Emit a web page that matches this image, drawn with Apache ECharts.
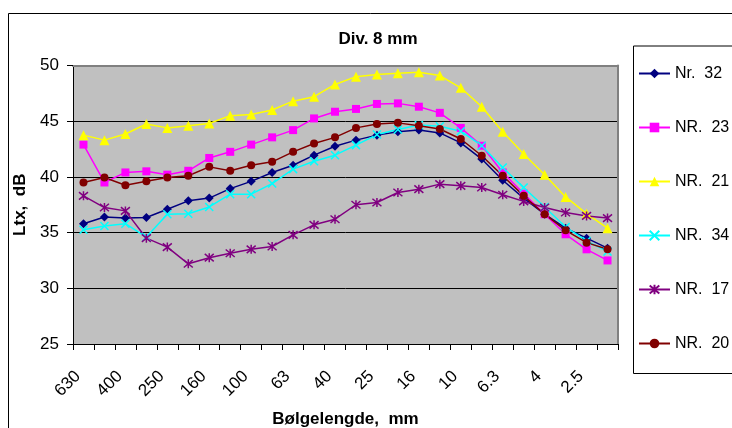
<!DOCTYPE html>
<html>
<head>
<meta charset="utf-8">
<script src="https://cdn.jsdelivr.net/npm/echarts@6/dist/echarts.min.js"></script>
<style>
html,body{margin:0;padding:0;background:#fff;}
#chart{width:732px;height:428px;}
</style>
</head>
<body>
<div id="chart"></div>
<script>
var categories = ['630','500','400','315','250','200','160','125','100','80','63','50','40','31.5','25','20','16','12.5','10','8','6.3','5','4','3.15','2.5','2'];
var seriesNames = ['Nr.  32','NR.  23','NR.  21','NR.  34','NR.  17','NR.  20'];
var nr32 = [35.8,36.4,36.3,36.35,37.1,37.85,38.1,38.95,39.6,40.4,41.05,41.95,42.75,43.3,43.75,44.05,44.2,43.95,43.05,41.6,39.7,38.1,36.65,35.4,34.5,33.6];
var nr23 = [42.9,39.5,40.4,40.5,40.2,40.55,41.7,42.25,42.9,43.55,44.2,45.25,45.85,46.1,46.55,46.6,46.3,45.75,44.4,42.8,40.4,38.5,36.65,34.85,33.5,32.5];
var nr21 = [43.75,43.3,43.85,44.75,44.4,44.6,44.8,45.5,45.6,46.0,46.8,47.2,48.3,49.0,49.2,49.3,49.4,49.1,48.0,46.3,44.05,42.05,40.2,38.2,36.7,35.4];
var nr34 = [35.25,35.6,35.8,34.6,36.65,36.7,37.3,38.45,38.45,39.4,40.7,41.4,41.95,42.85,43.8,44.25,44.65,44.55,44.1,42.8,40.85,39.05,37.3,35.5,34.25,33.3];
var nr17 = [38.3,37.25,36.95,34.5,33.7,32.2,32.75,33.15,33.5,33.75,34.8,35.7,36.2,37.5,37.7,38.6,38.9,39.35,39.2,39.05,38.4,37.8,37.25,36.8,36.5,36.3];
var nr20 = [39.5,39.95,39.25,39.6,39.95,40.1,40.9,40.55,41.05,41.35,42.25,43.0,43.55,44.4,44.75,44.85,44.6,44.3,43.4,41.9,40.1,38.3,36.65,35.2,34.1,33.5];
var yTicks = [25,30,35,40,45,50];

var FONT = '"Liberation Sans", Arial, sans-serif';
var colors = ['#000080','#FF00FF','#FFFF00','#00FFFF','#800080','#800000'];
var symbols = ['diamond','rect','triangle','path://M0,0L10,10M10,0L0,10','path://M0,0L10,10M10,0L0,10M5,-1L5,11','circle'];
var sizes = [9,8,10,8,9,8];
var values = [nr32,nr23,nr21,nr34,nr17,nr20];

var series = values.map(function(v,i){
  return {
    name: seriesNames[i],
    type: 'line',
    data: v,
    xAxisIndex: 0,
    yAxisIndex: 0,
    symbol: symbols[i],
    symbolSize: sizes[i],
    showSymbol: true,
    showAllSymbol: true,
    lineStyle: {color: colors[i], width: 1.5},
    itemStyle: {color: colors[i], borderColor: colors[i], borderWidth: (i===3||i===4)?1.5:0},
    emphasis: {disabled: true},
    animation: false
  };
});

var chart = echarts.init(document.getElementById('chart'), null, {renderer:'canvas'});
chart.setOption({
  backgroundColor: '#ffffff',
  animation: false,
  textStyle: {fontFamily: FONT},
  title: {
    text: 'Div. 8 mm',
    left: 373, top: 26, textAlign: 'center',
    textStyle: {fontFamily: FONT, fontSize: 17, fontWeight: 'bold', color: '#000'}
  },
  graphic: [
    {type:'rect', left: 6, top: 11, shape:{x:0,y:0,width:740,height:440}, style:{fill:'none', stroke:'#000', lineWidth:1}, silent:true, z:-1},
    {type:'rect', left: 631, top: 43.5, shape:{x:0,y:0,width:120,height:327.5}, style:{fill:'none', stroke:'#000', lineWidth:1}, silent:true, z:20}
  ],
  legend: {
    orient: 'vertical',
    left: 631, top: 43.5,
    padding: [22, 10, 20, 7],
    itemGap: 38,
    itemWidth: 31,
    itemHeight: 12,
    borderWidth: 0,
    textStyle: {fontFamily: FONT, fontSize: 16, color: '#000', lineHeight: 16},
    data: seriesNames
  },
  grid: {
    left: 73, top: 65.5, width: 545, height: 278.5,
    containLabel: false,
    outerBoundsMode: 'none',
    show: true, backgroundColor: '#c0c0c0', borderWidth: 0
  },
  xAxis: [{
    type: 'category',
    data: categories,
    boundaryGap: true,
    position: 'bottom',
    axisLine: {show: true, lineStyle: {color: '#000', width: 1}},
    axisTick: {show: true, interval: 0, length: 6, inside: false, lineStyle: {color: '#000'}},
    axisLabel: {interval: 1, rotate: 45, margin: 24, padding: [0, 8, 0, 0], fontFamily: FONT, fontSize: 17, color: '#000'},
    name: 'Bølgelengde,  mm',
    nameLocation: 'middle',
    nameGap: 67,
    nameTextStyle: {fontFamily: FONT, fontSize: 17, fontWeight: 'bold', color: '#000'},
    splitLine: {show: false}
  },{
    type: 'category',
    data: categories,
    position: 'top',
    axisLine: {show: true, lineStyle: {color: '#808080', width: 2}},
    axisTick: {show: false},
    axisLabel: {show: false},
    splitLine: {show: false}
  }],
  yAxis: [{
    type: 'value',
    min: 25, max: 50, interval: 5,
    axisLine: {show: true, lineStyle: {color: '#000', width: 1}},
    axisTick: {show: true, length: 6, lineStyle: {color: '#000'}},
    axisLabel: {margin: 14, fontFamily: FONT, fontSize: 17, color: '#000',
      formatter: function(v){ return yTicks.indexOf(v) >= 0 ? String(v) : ''; }},
    splitLine: {show: true, lineStyle: {color: '#000', width: 1}},
    name: 'Ltx,  dB',
    nameLocation: 'middle',
    nameRotate: 90,
    nameGap: 43,
    nameTextStyle: {fontFamily: FONT, fontSize: 17, fontWeight: 'bold', color: '#000'}
  },{
    type: 'value',
    min: 25, max: 50, interval: 5,
    position: 'right',
    axisLine: {show: true, lineStyle: {color: '#808080', width: 2}},
    axisTick: {show: false},
    axisLabel: {show: false},
    splitLine: {show: false}
  }],
  series: series
});
</script>
</body>
</html>
